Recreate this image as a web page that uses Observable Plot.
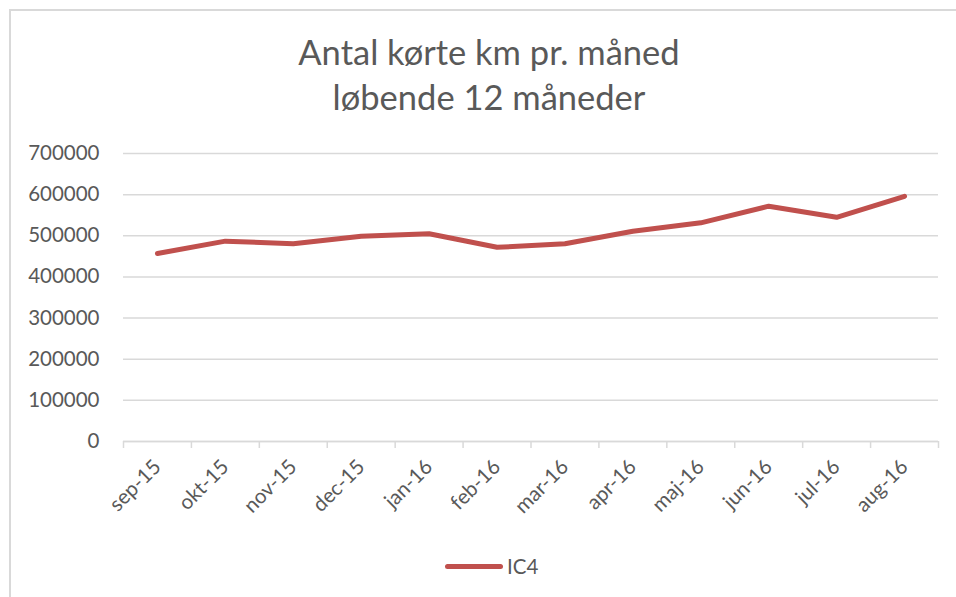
<!DOCTYPE html>
<html>
<head>
<meta charset="utf-8">
<script src="https://cdn.jsdelivr.net/npm/d3@7"></script>
<script src="https://cdn.jsdelivr.net/npm/@observablehq/plot@0.6"></script>
<style>
  html, body { margin: 0; padding: 0; background: #fff; }
  #wrap { position: relative; width: 956px; height: 597px; overflow: hidden; font-family: Lato, "Open Sans", sans-serif; }
  #frame { position: absolute; left: 9px; top: 9px; width: 1000px; height: 700px; border-left: 2px solid #d9d9d9; border-top: 2px solid #d9d9d9; box-sizing: border-box; }
  #chart { position: absolute; left: 0; top: 0; }
  #title { position: absolute; left: 0; width: 978px; top: 29px; text-align: center; font-size: 34.5px; line-height: 45px; color: #595959; }
  #legend { position: absolute; left: 445px; top: 554px; display: flex; align-items: center; font-size: 20.5px; color: #595959; }
  #legend .sw { width: 58px; height: 5px; background: #c0504d; border-radius: 3px; margin-right: 4px; }
</style>
</head>
<body>
<div id="wrap">
  <div id="frame"></div>
  <div id="chart"></div>
  <div id="title"><div>Antal kørte km pr. måned</div><div>løbende 12 måneder</div></div>
  <div id="legend"><span class="sw"></span><span id="legendLabel"></span></div>
</div>
<script>
const months = ["sep-15", "okt-15", "nov-15", "dec-15", "jan-16", "feb-16", "mar-16", "apr-16", "maj-16", "jun-16", "jul-16", "aug-16"];
const km = [457000, 487000, 480500, 499000, 504800, 472000, 480500, 511000, 531500, 572000, 545000, 596000];
const yTicks = [0, 100000, 200000, 300000, 400000, 500000, 600000, 700000];
const seriesName = "IC4";

const data = months.map((m, i) => ({pos: i + 0.5, month: m, km: km[i]}));
const boundaries = d3.range(months.length + 1);

const chart = Plot.plot({
  width: 956,
  height: 597,
  marginLeft: 123,
  marginRight: 18,
  marginTop: 153,
  marginBottom: 156,
  x: {domain: [0, months.length], axis: null, label: null},
  y: {domain: [0, 700000], axis: null, label: null},
  style: {fontFamily: "Lato, 'Open Sans', sans-serif", fontSize: "20.5px", color: "#595959", background: "transparent", overflow: "visible"},
  marks: [
    Plot.gridY(yTicks, {stroke: "#d9d9d9", strokeOpacity: 1, strokeWidth: 1.5}),
    Plot.axisY(yTicks, {tickSize: 0, tickPadding: 24, tickFormat: d3.format("d"), fill: "#595959", label: null}),
    Plot.ruleY([0], {stroke: "#d9d9d9", strokeWidth: 1.5}),
    Plot.axisX(boundaries, {tickSize: 7, tickFormat: () => "", stroke: "#d9d9d9", strokeOpacity: 1, strokeWidth: 1.5, label: null}),
    Plot.axisX(data.map(d => d.pos), {tickSize: 0, tickPadding: 22, tickRotate: -45, tickFormat: v => months[Math.round(v - 0.5)], fill: "#595959", label: null}),
    Plot.line(data, {x: "pos", y: "km", stroke: "#c0504d", strokeWidth: 5, strokeLinecap: "round", strokeLinejoin: "round"})
  ]
});
document.getElementById("chart").appendChild(chart);
document.getElementById("legendLabel").textContent = seriesName;
</script>
</body>
</html>
